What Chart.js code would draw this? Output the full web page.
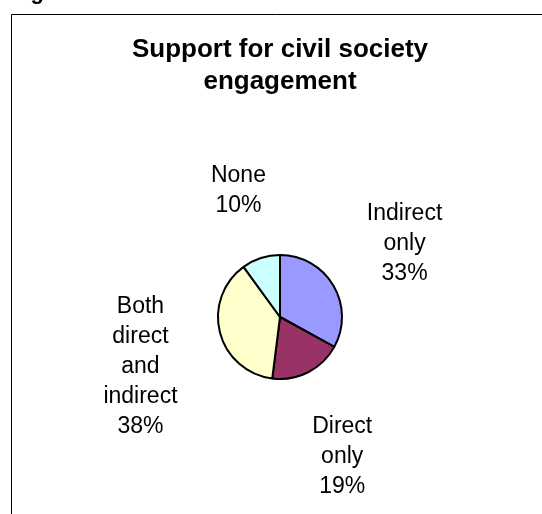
<!DOCTYPE html>
<html>
<head>
<meta charset="utf-8">
<script src="https://cdn.jsdelivr.net/npm/chart.js@4/dist/chart.umd.min.js"></script>
<style>
  html, body { margin: 0; padding: 0; background: #fff; }
  #wrap { position: relative; width: 542px; height: 514px; }
</style>
</head>
<body>
<div id="wrap"><canvas id="myCanvas"></canvas></div>
<script>
let categories = ["Indirect only", "Direct only", "Both direct and indirect", "None"]
let shares = [33, 19, 38, 10]
let colors = ["#9999FF", "#993366", "#FFFFCC", "#CCFFFF"]
let titleLines = ["Support for civil society", "engagement"]

const labelFont = "23px 'Liberation Sans', Arial, sans-serif"
const titleFont = "bold 26px 'Liberation Sans', Arial, sans-serif"

// frame, title and outside labels drawn around the pie
const decorations = {
    id: "decorations",
    afterDraw(chart) {
        const ctx = chart.ctx
        ctx.save()

        // frame (only left and top edges are visible in the crop)
        ctx.strokeStyle = "#000"
        ctx.lineWidth = 1
        ctx.beginPath()
        ctx.moveTo(11.5, 514)
        ctx.lineTo(11.5, 14.5)
        ctx.lineTo(542, 14.5)
        ctx.stroke()

        // caption cut off at the top of the picture
        ctx.fillStyle = "#000"
        ctx.font = "bold 22px 'Liberation Sans', Arial, sans-serif"
        ctx.textAlign = "left"
        ctx.textBaseline = "alphabetic"
        ctx.fillText("Figure", 11, -1)

        // title
        const meta = chart.getDatasetMeta(0)
        const cx = meta.data[0].x
        ctx.font = titleFont
        ctx.textAlign = "center"
        titleLines.forEach((line, i) => ctx.fillText(line, cx, 57 + i * 32))

        // slice labels
        const total = shares.reduce((a, b) => a + b, 0)
        const lineH = 30
        const gap = 45
        ctx.font = labelFont
        ctx.textBaseline = "middle"
        meta.data.forEach((arc, i) => {
            const lines = categories[i].split(" ")
            lines.push(Math.round(shares[i] / total * 100) + "%")
            const w = Math.max(...lines.map(l => ctx.measureText(l).width))
            const h = lines.length * lineH
            const mid = (arc.startAngle + arc.endAngle) / 2
            const r = arc.outerRadius + gap
            const bx = arc.x + Math.cos(mid) * (r + w / 2)
            const by = arc.y + Math.sin(mid) * r + Math.sin(mid) * h / 2 + 4
            lines.forEach((l, k) => {
                ctx.fillText(l, bx, by - h / 2 + lineH / 2 + k * lineH)
            })
        })
        ctx.restore()
    }
}

new Chart("myCanvas", {
    type: "pie",
    data: {
        labels: categories,
        datasets: [
            {
                data: shares,
                backgroundColor: colors,
                borderColor: "#000",
                borderWidth: 2,
            },
        ]
    },
    options: {
        responsive: true,
        maintainAspectRatio: false,
        animation: false,
        layout: { padding: { left: 217, right: 199, top: 254, bottom: 134 } },
        plugins: {
            legend: { display: false },
            tooltip: { enabled: false },
            title: { display: false }
        }
    },
    plugins: [decorations]
})
</script>
</body>
</html>
